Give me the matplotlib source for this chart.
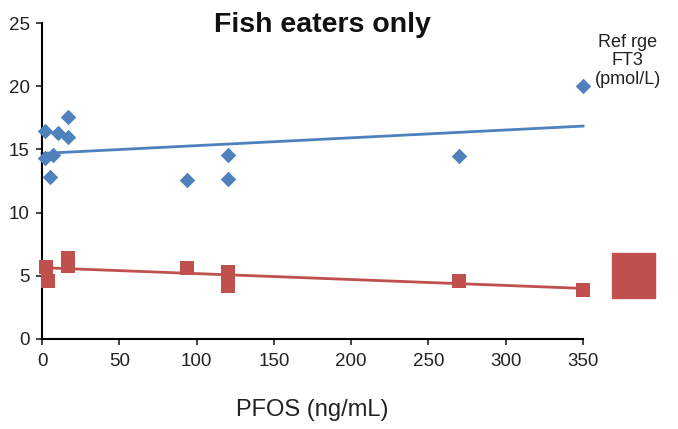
import numpy as np
import matplotlib.pyplot as plt
from matplotlib.patches import Rectangle

plt.rcParams['font.family'] = ['Liberation Sans', 'DejaVu Sans']

# FT3 (blue diamonds) vs PFOS
pfos_blue = [2, 2, 5, 7, 10.3, 17, 17, 94, 120, 120, 270, 350]
ft3_blue = [16.5, 14.3, 12.8, 14.6, 16.3, 17.6, 16.0, 12.6, 14.6, 12.7, 14.5, 20.0]

# reference range (red squares) vs PFOS
pfos_red = [2.5, 4, 17, 17, 94, 120, 120, 270, 350]
ref_red = [5.7, 4.6, 6.4, 5.8, 5.6, 5.3, 4.2, 4.6, 3.9]

blue = '#4F81BD'
red = '#C0504D'

fig = plt.figure(figsize=(6.78, 4.29), dpi=100)
ax = fig.add_axes([0.062, 0.21, 0.798, 0.736])

ax.scatter(pfos_blue, ft3_blue, marker='D', s=62, color=blue, zorder=3, clip_on=False, linewidths=0)
ax.scatter(pfos_red, ref_red, marker='s', s=115, color=red, zorder=3, clip_on=False, linewidths=0)

# linear trendlines
xs = np.array([0, 350])
for xv, yv, c in [(pfos_blue, ft3_blue, blue), (pfos_red, ref_red, red)]:
    m, b = np.polyfit(xv, yv, 1)
    ax.plot(xs, m * xs + b, color=c, lw=2, zorder=2, clip_on=False)

ax.set_xlim(0, 350)
ax.set_ylim(0, 25)
ax.set_xticks(range(0, 351, 50))
ax.set_yticks(range(0, 26, 5))
for s in ['top', 'right']:
    ax.spines[s].set_visible(False)
for s in ['left', 'bottom']:
    ax.spines[s].set_linewidth(1.5)
ax.tick_params(direction='out', length=4, width=1.2, labelsize=13.5, colors='#222222')
ax.tick_params(axis='x', pad=6)
ax.tick_params(axis='y', pad=5)

ax.set_xlabel('PFOS (ng/mL)', fontsize=17, labelpad=21, color='#222222')
fig.text(0.475, 0.942, 'Fish eaters only', ha='center', va='center',
         fontsize=20.5, fontweight='bold', color='#111111')
fig.text(0.926, 0.858, 'Ref rge\nFT3\n(pmol/L)', ha='center', va='center',
         fontsize=13, linespacing=1.1, color='#222222')

# legend swatch
fig.patches.append(Rectangle((612 / 678, 1 - 298 / 429), 43 / 678, 45 / 429,
                             transform=fig.transFigure, color=red))

fig.savefig('out.png', dpi=100)
